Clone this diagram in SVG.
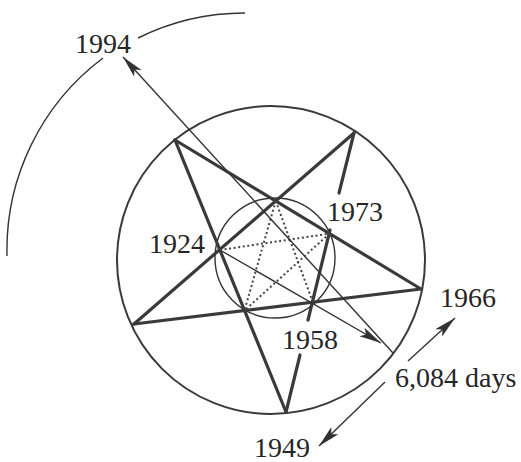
<svg xmlns="http://www.w3.org/2000/svg" width="521" height="462" viewBox="0 0 521 462">
  <style>
    .lbl { font-family: "Liberation Serif", "Times New Roman", serif; font-size: 28px; fill: #262626; }
    .circ { fill: none; stroke: #3a3a3a; stroke-width: 2; }
    .star { fill: none; stroke: #3a3a3a; stroke-width: 3.2; stroke-linecap: round; }
    .thin { fill: none; stroke: #333; stroke-width: 1.4; }
    .dot { fill: none; stroke: #444; stroke-width: 2; stroke-dasharray: 2 2.6; }
  </style>
  <defs>
    <marker id="ah" markerUnits="userSpaceOnUse" markerWidth="24" markerHeight="12" refX="22" refY="5" orient="auto">
      <path d="M0,0 L22,5 L0,10 L5,5 Z" fill="#333"/>
    </marker>
  </defs>
  <rect width="521" height="462" fill="#fff"/>

  <g id="outer-arc">
    <path class="thin" d="M 7 256 A 240 240 0 0 1 103 58"/>
    <path class="thin" d="M 138 38 A 240 240 0 0 1 245 13"/>
  </g>

  <g id="outer-circle">
    <circle class="circ" cx="271" cy="260" r="154"/>
  </g>
  <g id="inner-circle">
    <circle class="thin" cx="275" cy="258" r="60"/>
  </g>

  <g id="pentagram">
    <line class="star" x1="175" y1="140" x2="421" y2="289"/>
    <line class="star" x1="175" y1="140" x2="286" y2="412"/>
    <line class="star" x1="354" y1="133" x2="134" y2="324"/>
    <line class="star" x1="421" y1="289" x2="134" y2="324"/>
    <line class="star" x1="354" y1="133" x2="339" y2="193"/>
    <line class="star" x1="330" y1="230" x2="308" y2="320"/>
    <line class="star" x1="300" y1="355" x2="286" y2="412"/>
  </g>

  <g id="inner-pentagram">
    <line class="dot" x1="220" y1="250" x2="329.5" y2="233.6"/>
    <line class="dot" x1="275.7" y1="201" x2="244.5" y2="310.5"/>
    <line class="dot" x1="275.7" y1="201" x2="312.8" y2="302.2"/>
    <line class="dot" x1="329.5" y1="233.6" x2="244.5" y2="310.5"/>
  </g>

  <g id="connectors">
    <line class="thin" x1="393" y1="353" x2="123" y2="57" marker-end="url(#ah)"/>
    <line class="thin" x1="220" y1="250" x2="381" y2="343" marker-end="url(#ah)"/>
    <line class="thin" x1="408" y1="361" x2="455" y2="318" marker-end="url(#ah)"/>
    <line class="thin" x1="385" y1="382" x2="319" y2="446" marker-end="url(#ah)"/>
  </g>

  <g id="label-1994"><text class="lbl" x="75" y="53">1994</text></g>
  <g id="label-1924"><text class="lbl" x="149" y="253">1924</text></g>
  <g id="label-1973"><text class="lbl" x="327" y="221">1973</text></g>
  <g id="label-1958"><text class="lbl" x="282" y="349">1958</text></g>
  <g id="label-1966"><text class="lbl" x="440" y="307">1966</text></g>
  <g id="label-days"><text class="lbl" x="395" y="387">6,084 days</text></g>
  <g id="label-1949"><text class="lbl" x="254" y="457">1949</text></g>
</svg>
